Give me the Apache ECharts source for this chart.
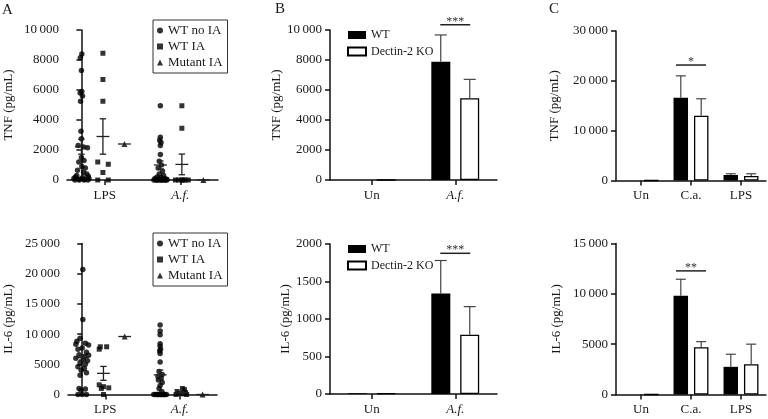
<!DOCTYPE html>
<html><head><meta charset="utf-8">
<script src="https://cdn.jsdelivr.net/npm/echarts/dist/echarts.min.js"></script>
<style>html,body{margin:0;padding:0;background:#fff}#c{width:768px;height:419px}</style>
</head><body><div id="c"></div>
<script>
// ---------- DATA ----------
const groupNames = ['WT no IA', 'WT IA', 'Mutant IA'];
const scatterCats = ['LPS', 'A.f.'];
// slot of each group on the hidden helper axis (LPS: 3 groups, A.f.: 3 groups)
const groupSlots = [0, 1, 2, 3.67, 4.67, 5.67];

// Panel A, TNF (pg/mL)
const tnfLpsNoIA = [8400, 8150, 7300, 5900, 5800, 5600, 5250, 3250, 2750, 2300, 2200, 2150, 1500, 1300, 1200, 900, 800, 650, 500, 400, 300, 250, 200, 150, 100, 100, 50, 50, 0, 0, 0, 0];
const tnfLpsNoIAJit = [0.02, -0.05, 0, 0.02, -0.06, 0.05, -0.04, -0.02, 0, -0.15, 0.1, 0.28, 0, 0.12, -0.12, 0.02, 0.18, -0.18, 0.1, 0.25, -0.22, 0.32, -0.28, 0.05, -0.35, 0.35, -0.1, 0.15, -0.3, -0.1, 0.12, 0.3];
const tnfLpsIA = [8450, 6700, 5250, 1200, 1050, 500, 0, 0];
const tnfLpsIAJit = [0, 0, 0, -0.24, 0.25, 0, -0.24, 0.25];
const tnfLpsMut = [2400];
const tnfAfNoIA = [4950, 2850, 2650, 2500, 2300, 1700, 1250, 1000, 800, 600, 400, 300, 200, 150, 100, 100, 50, 50, 0, 0, 0, 0, 0, 0, 0, 0, 0, 0];
const tnfAfNoIAJit = [0, 0, -0.03, 0.03, 0, 0, -0.05, 0.05, -0.1, 0.1, -0.05, 0.15, -0.15, 0.05, -0.25, 0.2, -0.1, 0.3, -0.3, -0.2, -0.1, 0, 0.1, 0.2, 0.3, -0.15, 0.05, 0.25];
const tnfAfIA = [4950, 3450, 0, 0, 0, 0, 0, 0];
const tnfAfIAJit = [0, 0, -0.3, -0.15, 0, 0.15, 0.3, 0.05];
const tnfAfMut = [0];
const tnfMeans = [2220, 2900, 2400, 1000, 1040, 0];
const tnfSems = [500, 1180, 0, 270, 690, 0];

// Panel A, IL-6 (pg/mL)
const il6LpsNoIA = [20700, 12400, 9300, 8800, 8500, 8300, 8200, 7700, 7500, 7000, 6600, 6500, 6300, 6000, 5800, 5600, 5300, 5000, 4600, 4300, 4000, 3600, 3200, 1000, 900, 700, 0, 0, 0];
const il6LpsNoIAJit = [0.03, 0.03, -0.1, -0.25, 0.15, -0.3, 0.3, 0, -0.2, 0.2, -0.15, 0.3, 0.1, -0.3, 0.05, 0.25, -0.1, 0.15, -0.2, 0.1, -0.05, 0.2, -0.1, -0.15, 0.15, -0.05, -0.2, 0, 0.2];
const il6LpsIA = [7900, 7900, 7500, 1600, 1300, 1100, 1000, 0];
const il6LpsIAJit = [-0.15, 0.15, -0.2, -0.2, 0, 0.25, -0.1, 0];
const il6LpsMut = [9600];
const il6AfNoIA = [11500, 10500, 9900, 8400, 8000, 7500, 7200, 6800, 5400, 3800, 3300, 3000, 2700, 2400, 2000, 1500, 1000, 500, 0, 0, 0, 0, 0, 0, 0, 0, 0, 0, 0, 0];
const il6AfNoIAJit = [0, 0, 0, 0, 0, 0.02, -0.02, 0, 0, -0.05, 0.1, -0.1, 0.05, -0.08, 0.1, 0, -0.05, 0.08, -0.3, -0.22, -0.15, -0.08, 0, 0.08, 0.15, 0.22, 0.3, -0.1, 0.05, 0.2];
const il6AfIA = [1000, 800, 500, 300, 200, 100, 0, 0];
const il6AfIAJit = [0.05, 0.15, -0.2, 0.2, -0.1, 0.1, -0.25, 0.25];
const il6AfMut = [0];
const il6Means = [6100, 3500, 9600, 3250, 300, 0];
const il6Sems = [400, 1150, 0, 800, 150, 0];

// Panel B
const bCats = ['Un', 'A.f.'];
const bTnfWT = [0, 7890], bTnfWTErr = [0, 1780];
const bTnfKO = [0, 5450], bTnfKOErr = [0, 1260];
const bIl6WT = [10, 1340], bIl6WTErr = [0, 440];
const bIl6KO = [10, 790], bIl6KOErr = [0, 375];
const bTnfSig = [1, 10350, '***'];
const bIl6Sig = [1, 1876, '***'];

// Panel C
const cCats = ['Un', 'C.a.', 'LPS'];
const cTnfWT = [0, 16600, 1100], cTnfWTErr = [0, 4400, 250];
const cTnfKO = [0, 13000, 900], cTnfKOErr = [0, 3400, 450];
const cIl6WT = [0, 9800, 2750], cIl6WTErr = [0, 1650, 1250];
const cIl6KO = [0, 4700, 3000], cIl6KOErr = [0, 550, 2000];
const cTnfSig = [1, 23170, '*'];
const cIl6Sig = [1, 12280, '**'];

// ---------- STYLE / BUILD ----------
const FONT = 'Liberation Serif';
const TXT = '#1a1a1a';
const AX = '#111';

function fmt(v) { return v >= 10000 ? String(v).replace(/(\d)(?=\d{3}$)/, '$1\u2009') : String(v); }

function yAx(gi, max, interval, name, gap) {
  return {
    type: 'value', gridIndex: gi, min: 0, max: max, interval: interval,
    name: name, nameLocation: 'middle', nameGap: gap, nameRotate: 90,
    nameTextStyle: { fontFamily: FONT, fontSize: 13, color: TXT },
    axisLine: { show: true, lineStyle: { color: AX, width: 1.5 } },
    axisTick: { show: true, length: 5, lineStyle: { color: AX, width: 1.5 } },
    axisLabel: { fontFamily: FONT, fontSize: 13, color: TXT, margin: 8, formatter: fmt },
    splitLine: { show: false }
  };
}
function xCat(gi, cats) {
  return {
    type: 'category', gridIndex: gi, data: cats,
    axisLine: { show: true, lineStyle: { color: AX, width: 1.5 } },
    axisTick: { show: true, alignWithLabel: true, length: 5, lineStyle: { color: AX, width: 1.5 } },
    axisLabel: {
      fontFamily: FONT, fontSize: 13, color: TXT, margin: 9,
      formatter: v => v === 'A.f.' ? '{i|A.f.}' : v,
      rich: { i: { fontStyle: 'italic', fontFamily: FONT, fontSize: 13, color: TXT } }
    }
  };
}
function xHidden(gi) { return { type: 'value', gridIndex: gi, min: -0.67, max: 6.35, show: false }; }

const symbolOf = ['circle', 'rect', 'triangle'];
const sizeOf = [5.5, 5, 6];

function scatterRow(xi, yi, groups) {
  return groups.map((g, k) => ({
    type: 'scatter', name: groupNames[k % 3], xAxisIndex: xi, yAxisIndex: yi,
    symbol: symbolOf[k % 3], symbolSize: sizeOf[k % 3],
    itemStyle: { color: '#000' }, z: 2, silent: true,
    data: g[0].map((v, i) => [groupSlots[k] + (g[1] ? g[1][i] : 0), v])
  }));
}
function meanSeries(xi, yi, means, sems) {
  return {
    type: 'custom', xAxisIndex: xi, yAxisIndex: yi, silent: true, z: 3,
    data: groupSlots.map((x, i) => [x, means[i], sems[i]]),
    renderItem: (p, api) => {
      const x = api.value(0), m = api.value(1), s = api.value(2);
      const L = (a, b) => ({ type: 'line', shape: { x1: a[0], y1: a[1], x2: b[0], y2: b[1] }, style: { stroke: '#222', lineWidth: 1.3 } });
      const ch = [L(api.coord([x - 0.3, m]), api.coord([x + 0.3, m]))];
      if (s > 0) {
        ch.push(L(api.coord([x, m - s]), api.coord([x, m + s])));
        ch.push(L(api.coord([x - 0.15, m + s]), api.coord([x + 0.15, m + s])));
        ch.push(L(api.coord([x - 0.15, m - s]), api.coord([x + 0.15, m - s])));
      }
      return { type: 'group', children: ch };
    }
  };
}
function errSeries(xi, yi, vals, errs, off, cap) {
  return {
    type: 'custom', xAxisIndex: xi, yAxisIndex: yi, silent: true, z: 3,
    data: vals.map((v, i) => [i, v, errs[i]]),
    renderItem: (p, api) => {
      const c = api.value(0), v = api.value(1), e = api.value(2);
      if (!(e > 0)) return null;
      const p0 = api.coord([c, v]), p1 = api.coord([c, v + e]);
      const x = p0[0] + off;
      const st = { stroke: '#444', lineWidth: 1.2 };
      return { type: 'group', children: [
        { type: 'line', shape: { x1: x, y1: p0[1], x2: x, y2: p1[1] }, style: st },
        { type: 'line', shape: { x1: x - cap, y1: p1[1], x2: x + cap, y2: p1[1] }, style: st }
      ] };
    }
  };
}
function sigSeries(xi, yi, sig, half) {
  return {
    type: 'custom', xAxisIndex: xi, yAxisIndex: yi, silent: true, z: 3,
    data: [[sig[0], sig[1]]],
    renderItem: (p, api) => {
      const c = api.coord([api.value(0), api.value(1)]);
      return { type: 'group', children: [
        { type: 'line', shape: { x1: c[0] - half, y1: c[1], x2: c[0] + half, y2: c[1] }, style: { stroke: '#222', lineWidth: 1.5 } },
        { type: 'text', style: { text: sig[2], x: c[0], y: c[1] - 3, align: 'center', verticalAlign: 'middle', fontFamily: FONT, fontSize: 12, fill: '#333' } }
      ] };
    }
  };
}
function barPair(xi, yi, wt, ko, bw, gap) {
  return [
    { type: 'bar', name: 'WT', xAxisIndex: xi, yAxisIndex: yi, data: wt, barWidth: bw, barGap: gap, itemStyle: { color: '#000' }, silent: true },
    { type: 'bar', name: 'Dectin-2 KO', xAxisIndex: xi, yAxisIndex: yi, data: ko, barWidth: bw, barGap: gap, itemStyle: { color: '#fff', borderColor: '#000', borderWidth: 1.3 }, silent: true }
  ];
}

const legendA = (top) => ({
  orient: 'vertical', left: 153, top: top, selectedMode: false,
  data: [{ name: 'WT no IA', icon: 'circle' }, { name: 'WT IA', icon: 'rect' }, { name: 'Mutant IA', icon: 'triangle' }],
  itemWidth: 6, itemHeight: 6, itemGap: 3, padding: [4, 5, 4, 4],
  borderColor: '#333', borderWidth: 1,
  textStyle: { fontFamily: FONT, fontSize: 13, color: TXT }
});
const legendB = (top) => ({
  orient: 'vertical', left: 347, top: top, selectedMode: false, padding: 0,
  data: ['WT', 'Dectin-2 KO'], icon: 'rect', itemWidth: 18, itemHeight: 8, itemGap: 4.5,
  textStyle: { fontFamily: FONT, fontSize: 12, color: TXT }
});

const option = {
  animation: false,
  backgroundColor: '#fff',
  grid: [
    { left: 67, top: 30, width: 151, height: 150, outerBoundsMode: 'none' },
    { left: 68, top: 243.5, width: 149, height: 151, outerBoundsMode: 'none' },
    { left: 330, top: 30, width: 167, height: 150, outerBoundsMode: 'none' },
    { left: 330, top: 244, width: 167, height: 150, outerBoundsMode: 'none' },
    { left: 616, top: 31, width: 150, height: 149.5, outerBoundsMode: 'none' },
    { left: 616, top: 243.5, width: 150, height: 151, outerBoundsMode: 'none' }
  ],
  xAxis: [
    xCat(0, scatterCats), xHidden(0),
    xCat(1, scatterCats), xHidden(1),
    xCat(2, bCats), xCat(3, bCats),
    xCat(4, cCats), xCat(5, cCats)
  ],
  yAxis: [
    yAx(0, 10000, 2000, 'TNF (pg/mL)', 52),
    yAx(1, 25000, 5000, 'IL-6 (pg/mL)', 53),
    yAx(2, 10000, 2000, 'TNF (pg/mL)', 37),
    yAx(3, 2000, 500, 'IL-6 (pg/mL)', 37),
    yAx(4, 30000, 10000, 'TNF (pg/mL)', 55),
    yAx(5, 15000, 5000, 'IL-6 (pg/mL)', 53)
  ],
  legend: [legendA(20), legendA(233), legendB(29), legendB(243)],
  graphic: [
    { type: 'text', left: 2, top: 3, style: { text: 'A', fontFamily: FONT, fontSize: 15, fill: TXT } },
    { type: 'text', left: 275, top: 2, style: { text: 'B', fontFamily: FONT, fontSize: 15, fill: TXT } },
    { type: 'text', left: 549, top: 2, style: { text: 'C', fontFamily: FONT, fontSize: 15, fill: TXT } }
  ],
  series: [
    ...scatterRow(1, 0, [[tnfLpsNoIA, tnfLpsNoIAJit], [tnfLpsIA, tnfLpsIAJit], [tnfLpsMut, null], [tnfAfNoIA, tnfAfNoIAJit], [tnfAfIA, tnfAfIAJit], [tnfAfMut, null]]),
    meanSeries(1, 0, tnfMeans, tnfSems),
    ...scatterRow(3, 1, [[il6LpsNoIA, il6LpsNoIAJit], [il6LpsIA, il6LpsIAJit], [il6LpsMut, null], [il6AfNoIA, il6AfNoIAJit], [il6AfIA, il6AfIAJit], [il6AfMut, null]]),
    meanSeries(3, 1, il6Means, il6Sems),
    ...barPair(4, 2, bTnfWT, bTnfKO, 19, '52%'),
    errSeries(4, 2, bTnfWT, bTnfWTErr, -14.5, 6), errSeries(4, 2, bTnfKO, bTnfKOErr, 14.5, 6),
    sigSeries(4, 2, bTnfSig, 15),
    ...barPair(5, 3, bIl6WT, bIl6KO, 19, '52%'),
    errSeries(5, 3, bIl6WT, bIl6WTErr, -14.5, 6), errSeries(5, 3, bIl6KO, bIl6KOErr, 14.5, 6),
    sigSeries(5, 3, bIl6Sig, 15),
    ...barPair(6, 4, cTnfWT, cTnfKO, 14.5, '41%'),
    errSeries(6, 4, cTnfWT, cTnfWTErr, -10.2, 5), errSeries(6, 4, cTnfKO, cTnfKOErr, 10.2, 5),
    sigSeries(6, 4, cTnfSig, 15),
    ...barPair(7, 5, cIl6WT, cIl6KO, 14.5, '41%'),
    errSeries(7, 5, cIl6WT, cIl6WTErr, -10.2, 5), errSeries(7, 5, cIl6KO, cIl6KOErr, 10.2, 5),
    sigSeries(7, 5, cIl6Sig, 15)
  ]
};
const chart = echarts.init(document.getElementById('c'), null, { renderer: 'canvas' });
chart.setOption(option);
</script></body></html>
